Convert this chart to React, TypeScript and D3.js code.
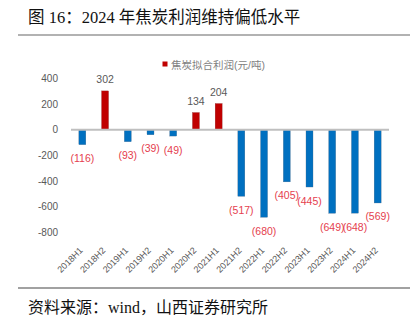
import React from "react";
import * as d3 from "d3";

const categories = ["2018H1","2018H2","2019H1","2019H2","2020H1","2020H2","2021H1","2021H2","2022H1","2022H2","2023H1","2023H2","2024H1","2024H2"];
const profit = [-116, 302, -93, -39, -49, 134, 204, -517, -680, -405, -445, -649, -648, -569];
const yTicks = [400, 200, 0, -200, -400, -600, -800];
const titleText = "图 16：2024 年焦炭利润维持偏低水平";
const legendText = "焦炭拟合利润(元/吨)";
const sourceText = "资料来源：wind，山西证券研究所";

const SANS = "'Liberation Sans', Arial, 'Noto Sans CJK SC', sans-serif";
const SERIF = "'Liberation Serif', 'Times New Roman', 'Noto Sans CJK SC', serif";

export default function App() {
  const W = 420, H = 322;
  const x = d3.scaleBand<string>().domain(categories).range([71, 389]).padding(0);
  const y = d3.scaleLinear().domain([-800, 400]).range([232.7, 78.3]);
  const barW = 7;
  const fmt = (v: number) => (v < 0 ? `(${Math.abs(v)})` : `${v}`);

  return (
    <svg width={W} height={H} style={{ position: "absolute", left: 0, top: 0, background: "#fff" }}>
      <text x={28} y={22.5} fontFamily={SERIF} fontSize={16.5} fill="#111">{titleText}</text>
      <line x1={18} x2={410} y1={35} y2={35} stroke="#666" strokeWidth={1.2} />

      <rect x={162.5} y={61.5} width={5} height={5} fill="#C00000" />
      <text x={171} y={64.5} dominantBaseline="central" fontFamily={SANS} fontSize={10.5} fill="#7f7f7f">{legendText}</text>

      {yTicks.map((t) => (
        <text key={t} x={58} y={y(t)} textAnchor="end" dominantBaseline="central" fontFamily={SANS} fontSize={10} fill="#595959">{t}</text>
      ))}

      {categories.map((c, i) => {
        const v = profit[i];
        const cx = (x(c) as number) + x.bandwidth() / 2;
        const y0 = y(0), y1 = y(v);
        return (
          <g key={c}>
            <rect x={cx - barW / 2} y={Math.min(y0, y1)} width={barW} height={Math.abs(y1 - y0)} fill={v < 0 ? "#0070C0" : "#C00000"} stroke={v < 0 ? "#4a6a88" : "#8a3030"} strokeWidth={0.3} />
            <text x={cx} y={v < 0 ? y1 + 13.5 : y1 - 11.5} textAnchor="middle" dominantBaseline="central" fontFamily={SANS} fontSize={10.5} fill={v < 0 ? "#E5404E" : "#595959"}>{fmt(v)}</text>
            <text transform={`translate(${cx + 1},${251}) rotate(-45)`} textAnchor="end" fontFamily={SANS} fontSize={9} fill="#595959">{c}</text>
          </g>
        );
      })}

      <line x1={71} x2={389} y1={y(0)} y2={y(0)} stroke="#bfbfbf" strokeWidth={1.8} />

      <line x1={18} x2={410} y1={288} y2={288} stroke="#444" strokeWidth={1.2} />
      <text x={28} y={313} fontFamily={SERIF} fontSize={16} fill="#111">{sourceText}</text>
    </svg>
  );
}
